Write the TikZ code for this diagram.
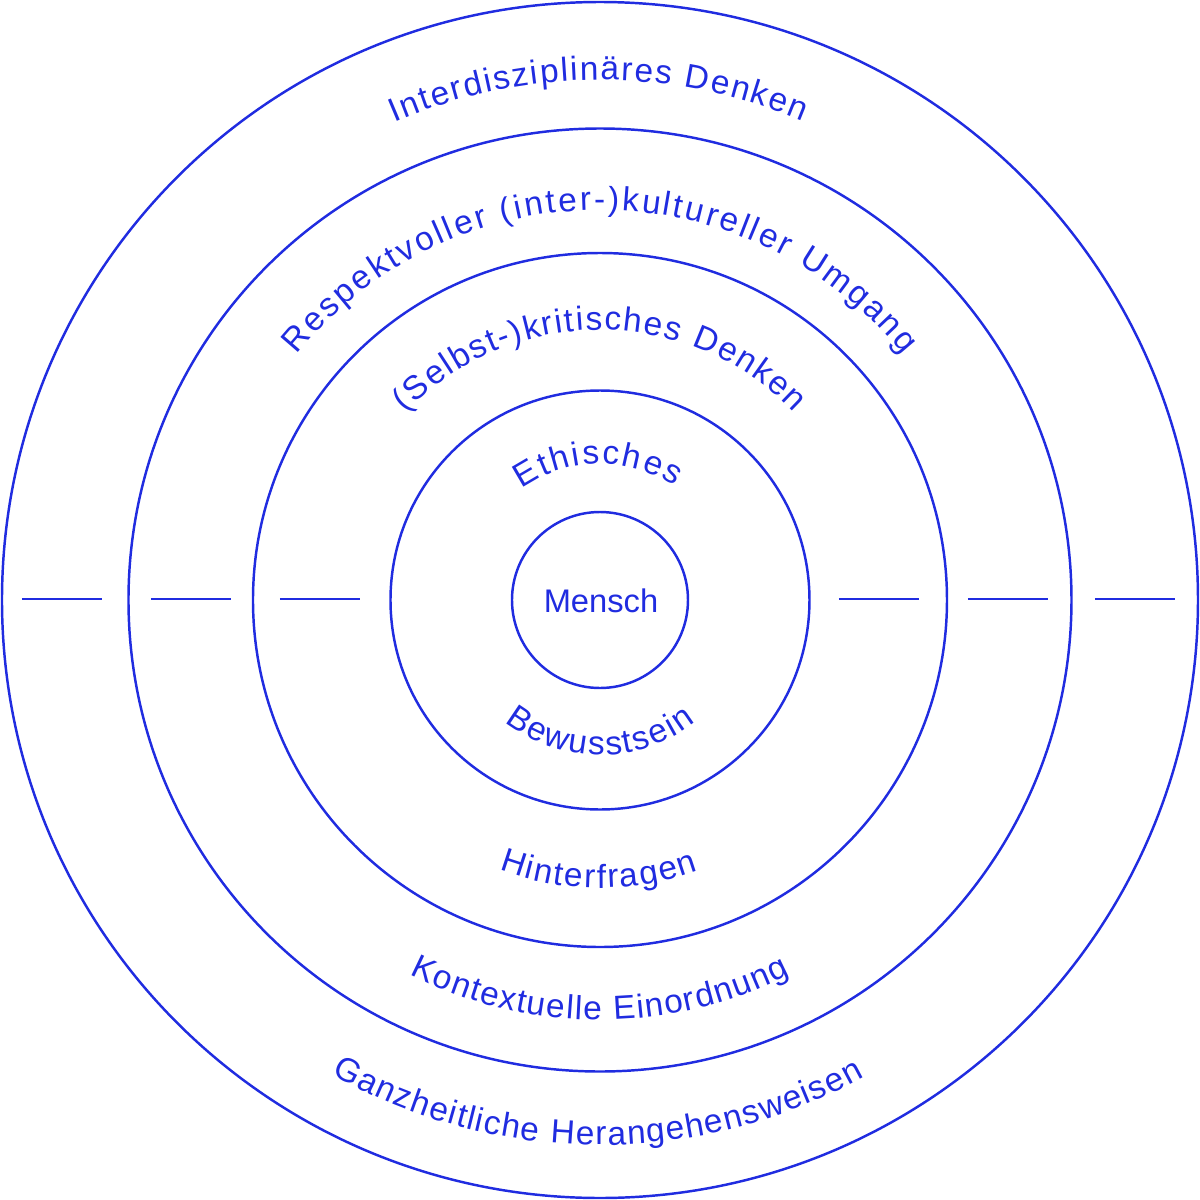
\documentclass[tikz,border=0pt]{standalone}
\usepackage{fontspec}
\setmainfont{Liberation Sans}
\usetikzlibrary{decorations.text}
\definecolor{ink}{RGB}{32,44,224}
\newfontfamily\ringfont{Liberation Sans}
\tikzset{
  ring/.style={draw=ink, line width=0.7pt},
  tick/.style={draw=ink, line width=0.6pt},
  arctext/.style={decorate, decoration={text along path, text color=ink,
      text align={fit to path}, text={|\ringfont\fontsize{9.5}{9.5}\selectfont|#1}}}
}
\begin{document}
\begin{tikzpicture}
\useasboundingbox (-6,-6) rectangle (6,6);
% circles
\draw[ring] (0,0) circle (5.98);
\draw[ring] (0,0) circle (4.715);
\draw[ring] (0,0) circle (3.47);
\draw[ring] (0,0) circle (2.095);
\draw[ring] (0,0) circle (0.88);
% centre
\node[text=ink, font=\fontsize{9.3}{10}\selectfont] (mensch) at (0.01,-0.01) {Mensch};
% ticks
\coordinate (l1a) at (-5.78,0.01); \coordinate (l1b) at (-4.98,0.01);
\coordinate (l2a) at (-4.49,0.01); \coordinate (l2b) at (-3.69,0.01);
\coordinate (l3a) at (-3.20,0.01); \coordinate (l3b) at (-2.40,0.01);
\coordinate (r3a) at (2.39,0.01); \coordinate (r3b) at (3.19,0.01);
\coordinate (r2a) at (3.68,0.01); \coordinate (r2b) at (4.48,0.01);
\coordinate (r1a) at (4.95,0.01); \coordinate (r1b) at (5.75,0.01);
\draw[tick] (l1a) -- (l1b);
\draw[tick] (l2a) -- (l2b);
\draw[tick] (l3a) -- (l3b);
\draw[tick] (r3a) -- (r3b);
\draw[tick] (r2a) -- (r2b);
\draw[tick] (r1a) -- (r1b);
% top texts (clockwise)
\path[arctext={Interdisziplinäres Denken}] (113.3:5.20) arc[start angle=113.3, end angle=67, radius=5.20];
\path[arctext={Respektvoller (inter-)kultureller Umgang}] (141:3.90) arc[start angle=141, end angle=39, radius=3.90];
\path[arctext={(Selbst-)kritisches Denken}] (136:2.70) arc[start angle=136, end angle=44, radius=2.70];
\path[arctext={Ethisches}] (125:1.36) arc[start angle=125, end angle=56.7, radius=1.36];
% bottom texts (counter-clockwise)
\path[arctext={Bewusstsein}] (232:1.55) arc[start angle=232, end angle=308, radius=1.55];
\path[arctext={Hinterfragen}] (249.5:2.88) arc[start angle=249.5, end angle=290, radius=2.88];
\path[arctext={Kontextuelle Einordnung}] (243:4.20) arc[start angle=243, end angle=297, radius=4.20];
\path[arctext={Ganzheitliche Herangehensweisen}] (240.5:5.45) arc[start angle=240.5, end angle=299, radius=5.45];
\end{tikzpicture}
\end{document}
